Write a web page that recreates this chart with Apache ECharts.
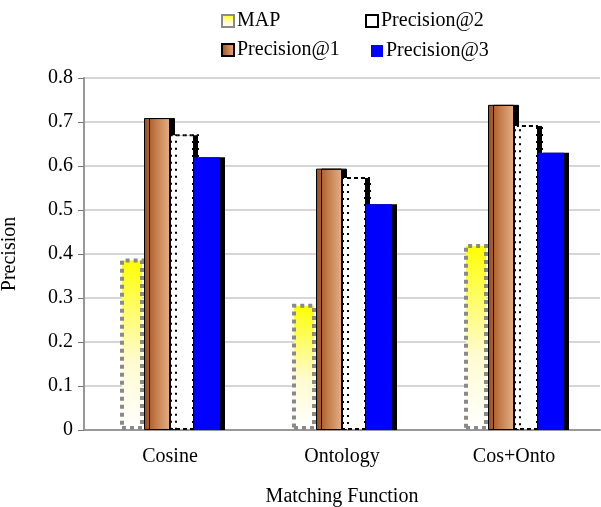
<!DOCTYPE html>
<html>
<head>
<meta charset="utf-8">
<script src="https://cdn.jsdelivr.net/npm/echarts@6/dist/echarts.min.js"></script>
<style>html,body{margin:0;padding:0;background:#fff}#c{width:601px;height:507px}</style>
</head>
<body>
<div id="c"></div>
<script>
var categories = ['Cosine', 'Ontology', 'Cos+Onto'];
var seriesNames = ['MAP', 'Precision@1', 'Precision@2', 'Precision@3'];
var mapVals = [0.39, 0.287, 0.423];
var p1Vals = [0.709, 0.594, 0.739];
var p2Vals = [0.672, 0.575, 0.693];
var p3Vals = [0.62, 0.513, 0.63];
var yTicks = [0, 0.1, 0.2, 0.3, 0.4, 0.5, 0.6, 0.7, 0.8];

var font = 'Liberation Serif';
var fs = 20;
var chart = echarts.init(document.getElementById('c'));
var shadow = {shadowColor: '#000', shadowBlur: 0, shadowOffsetX: 5, shadowOffsetY: 0};
function legendAt(name, left, top) {
  return {
    data: [{name: name, icon: 'rect'}],
    left: left, top: top, itemWidth: 12, itemHeight: 12, itemGap: 4,
    textStyle: {fontFamily: font, fontSize: fs, color: '#000', padding: [0,0,0,-2]}
  };
}
chart.setOption({
  animation: false,
  backgroundColor: '#fff',
  legend: [
    legendAt('MAP', 216, 6),
    legendAt('Precision@2', 360, 6),
    legendAt('Precision@1', 216, 35),
    legendAt('Precision@3', 366, 36)
  ],
  grid: {left: 84, right: 1, top: 78, bottom: 77, outerBoundsMode: 'none', containLabel: false},
  xAxis: {
    type: 'category', data: categories,
    axisLine: {lineStyle: {color: '#999', width: 2}},
    axisTick: {show: false},
    axisLabel: {fontFamily: font, fontSize: fs, color: '#000', margin: 17},
    name: 'Matching Function', nameLocation: 'middle', nameGap: 57,
    nameTextStyle: {fontFamily: font, fontSize: fs, color: '#000'}
  },
  yAxis: {
    type: 'value', min: 0, max: 0.8, interval: 0.1,
    axisLine: {show: true, lineStyle: {color: '#999', width: 2}},
    axisTick: {show: true, length: 6, lineStyle: {color: '#777'}},
    splitLine: {lineStyle: {color: '#c8c8c8', width: 1.5}},
    axisLabel: {fontFamily: font, fontSize: fs, color: '#000', margin: 11,
      formatter: function (v) { var i = yTicks.indexOf(Math.round(v*10)/10); return i >= 0 ? String(yTicks[i]) : ''; }},
    name: 'Precision', nameLocation: 'middle', nameGap: 64, nameRotate: 90,
    nameTextStyle: {fontFamily: font, fontSize: fs, color: '#000'}
  },
  series: [
    {name: 'MAP', type: 'bar', data: mapVals, barWidth: 24, barGap: '6%',
     itemStyle: {
       color: {type: 'linear', x: 0, y: 0, x2: 0, y2: 1, colorStops: [{offset: 0, color: '#ffff00'}, {offset: 0.6, color: '#fffbd0'}, {offset: 1, color: '#ffffff'}]},
       borderColor: '#8a8a8a', borderWidth: 4, borderType: 'dotted'
     }},
    {name: 'Precision@1', type: 'bar', data: p1Vals, barWidth: 26, barGap: '0%',
     itemStyle: Object.assign({
       color: {type: 'linear', x: 0, y: 0, x2: 1, y2: 0, colorStops: [{offset: 0, color: '#9a4a1c'}, {offset: 0.5, color: '#c6804f'}, {offset: 1, color: '#e2b088'}]},
       borderColor: '#000', borderWidth: 1
     }, shadow)},
    {name: 'Precision@2', type: 'bar', data: p2Vals, barWidth: 24, barGap: '0%',
     itemStyle: Object.assign({color: '#fff', borderColor: '#000', borderWidth: 2, borderType: [2, 5]}, shadow)},
    {name: 'Precision@3', type: 'bar', data: p3Vals, barWidth: 26, barGap: '0%',
     itemStyle: Object.assign({color: '#0000ff', borderColor: '#000', borderWidth: 0}, shadow)}
  ]
});
</script>
</body>
</html>
